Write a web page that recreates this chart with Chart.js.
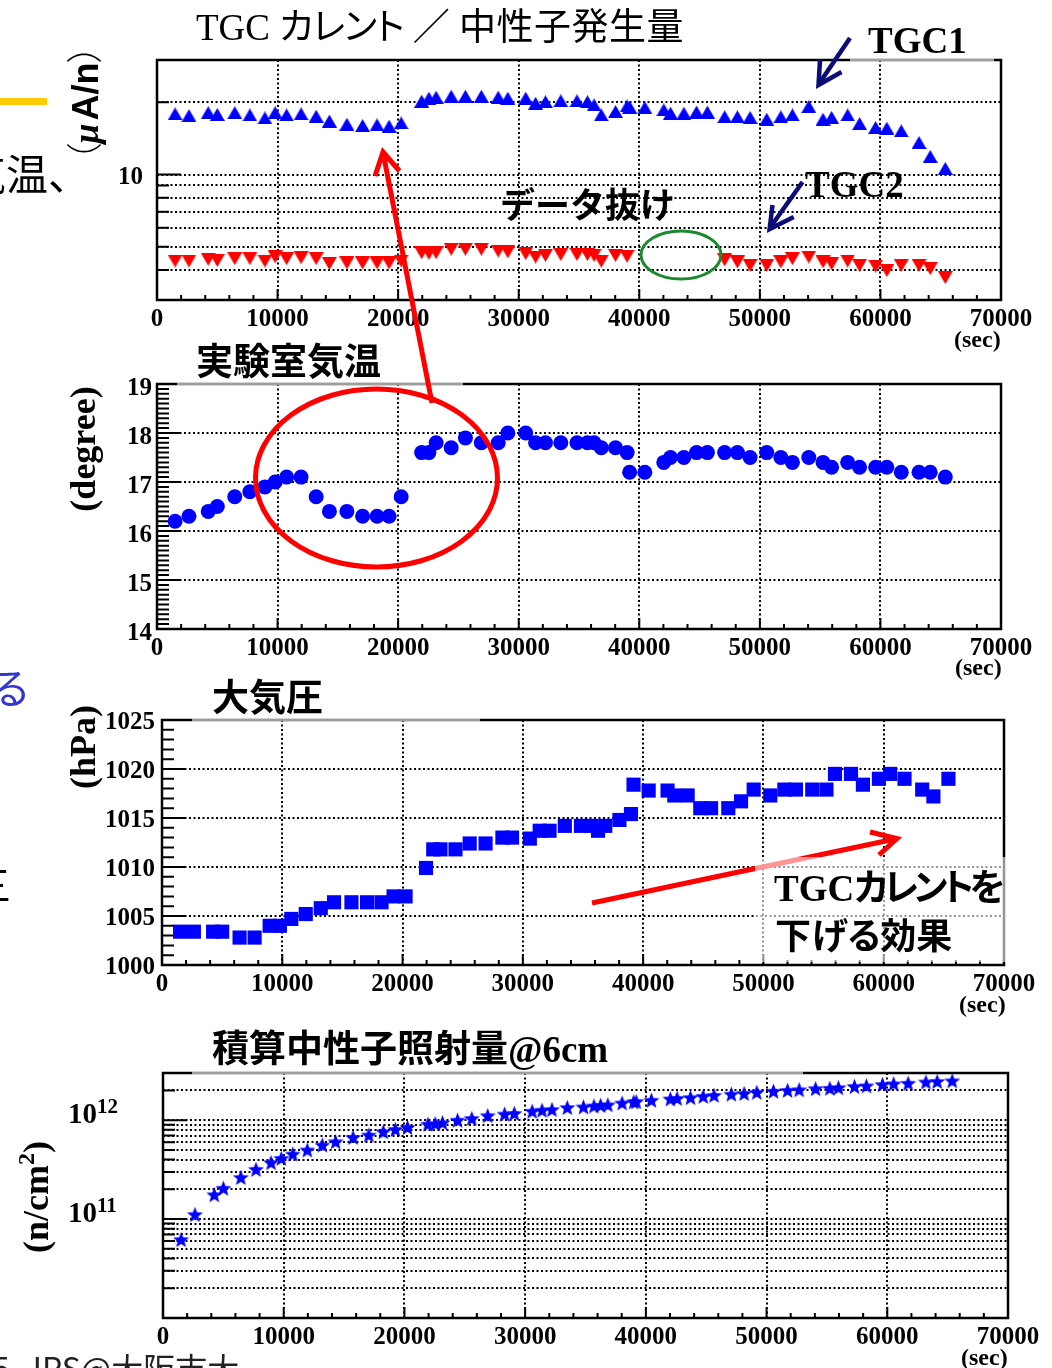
<!DOCTYPE html>
<html lang="ja">
<head>
<meta charset="utf-8">
<title>TGC カレント / 中性子発生量</title>
<script src="https://cdn.jsdelivr.net/npm/chart.js@4.4.1/dist/chart.umd.min.js"></script>
<style>
  html, body { margin: 0; padding: 0; background: #fff; }
  body { position: relative; width: 1052px; height: 1368px; overflow: hidden; }
  canvas.panel { position: absolute; left: 0; top: 0; }
  .t { position: absolute; white-space: nowrap; line-height: 1; color: #000; transform: translateY(-50%); }
  .rot { position: absolute; white-space: nowrap; line-height: 1; color: #000; transform: translate(-50%, -50%) rotate(-90deg); }
  .serif { font-family: "Liberation Serif", "Noto Sans CJK JP", serif; }
  .jp { font-family: "Noto Sans CJK JP", sans-serif; }
  .b { font-weight: bold; }
  .palt { font-feature-settings: "palt"; }
  svg.overlay { position: absolute; left: 0; top: 0; }
</style>
</head>
<body>
<canvas id="currentChart" class="panel" width="1052" height="1368"></canvas>
<canvas id="tempChart" class="panel" width="1052" height="1368"></canvas>
<canvas id="pressureChart" class="panel" width="1052" height="1368"></canvas>
<canvas id="fluenceChart" class="panel" width="1052" height="1368"></canvas>

<svg class="overlay" width="1052" height="1368" viewBox="0 0 1052 1368">
  <!-- worn segments of the frame tops -->
  <g stroke="rgba(255,255,255,0.62)" stroke-width="3">
    <line x1="850" y1="60" x2="994" y2="60"/>
    <line x1="177" y1="384" x2="463" y2="384"/>
    <line x1="192" y1="720" x2="480" y2="720"/>
    <line x1="192" y1="1073" x2="803" y2="1073"/>
  </g>
  <!-- TGC1 / TGC2 pointers -->
  <g fill="none" stroke="#0c0c78" stroke-width="4.5" stroke-linecap="butt" stroke-linejoin="miter">
    <line x1="850" y1="38" x2="819.5" y2="83"/>
    <polyline points="820,60 818.5,85 841.5,72"/>
    <line x1="802.5" y1="182" x2="770.5" y2="227"/>
    <polyline points="772.5,205 769.6,229 793.7,217"/>
  </g>
  <!-- missing TGC2 data -->
  <ellipse cx="681" cy="255" rx="40" ry="24" fill="none" stroke="#1b8a2c" stroke-width="3"/>
  <!-- temperature dip and its link to the current -->
  <g fill="none" stroke="#ff0000" stroke-width="5">
    <line x1="432" y1="403" x2="383.5" y2="155"/>
    <polyline points="375,176 383,152 399.5,171"/>
    <ellipse cx="376.5" cy="478" rx="121" ry="89"/>
    <line x1="592" y1="903" x2="895" y2="839"/>
    <polyline points="870,832 897,838.5 879,855"/>
  </g>
</svg>

<!-- left margin remnants -->
<div style="position:absolute;left:0;top:98px;width:47px;height:7px;background:#ffcb05"></div>
<div class="t jp" style="left:-36px;top:172px;font-size:42px;">気温、</div>
<div class="t jp" style="left:-11px;top:686px;font-size:42px;color:#3535cf;">る</div>
<div class="t jp" style="left:-29px;top:883px;font-size:40px;">三</div>
<div style="position:absolute;left:-8px;top:1351px;font-size:32px;line-height:32px;white-space:nowrap;color:#222;" class="jp">5<span style="margin-left:15px">JPS@大阪市大</span></div>

<!-- panel titles -->
<div class="t serif palt" style="left:196px;top:27px;font-size:37px;">TGC <span style="letter-spacing:-1px">カレント</span> ／ <span style="letter-spacing:0.5px">中性子発生量</span></div>
<div class="t serif b palt" style="left:196px;top:362px;font-size:37px;">実験室気温</div>
<div class="t serif b palt" style="left:212px;top:698px;font-size:37px;">大気圧</div>
<div class="t serif b" style="left:212px;top:1049px;font-size:37px;">積算中性子照射量@6cm</div>

<!-- axis titles -->
<div class="rot" style="left:84px;top:103px;font-size:36px;"><span class="jp palt" style="font-weight:300;">（</span><span style="font-family:'Liberation Serif';font-style:italic;font-weight:bold;">μ</span><span style="font-family:'Liberation Sans';font-weight:bold;margin-left:3px;">A/n</span><span class="jp palt" style="font-weight:300;">）</span></div>
<div class="rot serif b" style="left:83px;top:449px;font-size:36px;">(degree)</div>
<div class="rot serif b" style="left:83px;top:747px;font-size:36px;">(hPa)</div>
<div class="rot serif b" style="left:34px;top:1197px;font-size:36px;">(n/cm<sup style="font-size:24px;vertical-align:0.55em;">2</sup>)</div>

<div class="t serif b" style="left:954px;top:339px;font-size:24px;">(sec)</div>
<div class="t serif b" style="left:955px;top:667px;font-size:24px;">(sec)</div>
<div class="t serif b" style="left:959px;top:1004px;font-size:24px;">(sec)</div>
<div class="t serif b" style="left:961px;top:1357px;font-size:24px;">(sec)</div>

<!-- annotations -->
<div class="t serif b" style="left:868px;top:40px;font-size:37px;">TGC1</div>
<div class="t serif b" style="left:805px;top:184px;font-size:37px;">TGC2</div>
<div class="t jp b" style="left:500px;top:202px;font-size:35px;">データ抜け</div>

<div style="position:absolute;left:755px;top:857px;width:257px;height:105px;background:rgba(255,255,255,0.58);"></div>
<div class="t serif b palt" style="left:774px;top:888px;font-size:37px;">TGC<span style="letter-spacing:-4.5px">カレントを</span></div>
<div class="t jp b palt" style="left:775px;top:933px;font-size:36px;">下げる効果</div>

<script>
// ---- measurement times (s) shared by all four panels ----
const timeSec = [1500, 2650, 4250, 5000, 6450, 7700, 8950, 9800, 10750, 11950,
  13200, 14300, 15750, 17050, 18250, 19250, 20250, 21950, 22550, 23150,
  24400, 25580, 26900, 28300, 29100, 30580, 31400, 32220, 33490, 34830,
  35700, 36250, 36850, 38030, 38990, 39200, 40460, 42030, 42590, 43700,
  44750, 45650, 47080, 48140, 49190, 50570, 51740, 52700, 54060, 55240,
  55950, 57280, 58270, 59600, 60530, 61730, 63200, 64130, 65380];

// TGC current per neutron yield (uA/n)
const tgc1Current = [17.9, 17.6, 18.1, 17.8, 18.1, 17.7, 17.2, 18.1, 17.7, 17.9,
  17.5, 16.7, 16.2, 16.0, 16.1, 15.9, 16.4, 20.2, 20.8, 21.0,
  21.2, 21.2, 21.2, 21.0, 20.8, 20.8, 19.8, 20.1, 20.3, 20.3,
  20.1, 19.5, 17.7, 18.3, 19.3, 19.1, 19.0, 18.6, 18.0, 18.0,
  18.2, 18.2, 17.4, 17.4, 17.3, 17.0, 17.4, 17.7, 19.2, 17.0,
  17.3, 17.7, 16.3, 15.7, 15.6, 15.2, 13.6, 11.9, 10.6];
const tgc2Current = [4.36, 4.36, 4.43, 4.38, 4.46, 4.46, 4.36, 4.54, 4.46, 4.50,
  4.46, 4.26, 4.28, 4.28, 4.28, 4.28, 4.36, 4.72, 4.69, 4.72,
  4.88, 4.88, 4.88, 4.80, 4.76, 4.68, 4.53, 4.60, 4.64, 4.64,
  4.64, 4.60, 4.35, 4.60, 4.56, null, null, null, null, null,
  null, null, 4.41, 4.32, 4.18, 4.18, 4.32, 4.46, 4.53, 4.32,
  4.25, 4.36, 4.18, 4.15, 3.98, 4.18, 4.18, 4.05, 3.72];

// lab temperature (degree)
const labTemperature = [16.2, 16.3, 16.4, 16.5, 16.7, 16.8, 16.9, 17.0, 17.1, 17.1,
  16.7, 16.4, 16.4, 16.3, 16.3, 16.3, 16.7, 17.6, 17.6, 17.8,
  17.7, 17.9, 17.8, 17.8, 18.0, 18.0, 17.8, 17.8, 17.8, 17.8,
  17.8, 17.8, 17.7, 17.7, 17.6, 17.2, 17.2, 17.4, 17.5, 17.5,
  17.6, 17.6, 17.6, 17.6, 17.5, 17.6, 17.5, 17.4, 17.5, 17.4,
  17.3, 17.4, 17.3, 17.3, 17.3, 17.2, 17.2, 17.2, 17.1];

// atmospheric pressure (hPa)
const airPressure = [1003.4, 1003.4, 1003.4, 1003.4, 1002.8, 1002.8, 1004.0, 1004.0, 1004.7, 1005.2,
  1005.8, 1006.4, 1006.4, 1006.4, 1006.4, 1007.0, 1007.0, 1009.9, 1011.8, 1011.8,
  1011.8, 1012.4, 1012.4, 1013.0, 1013.0, 1012.9, 1013.7, 1013.7, 1014.2, 1014.2,
  1014.2, 1013.7, 1014.2, 1014.8, 1015.4, 1018.4, 1017.8, 1017.8, 1017.3, 1017.3,
  1016.0, 1016.0, 1016.0, 1016.7, 1017.9, 1017.3, 1017.9, 1017.9, 1017.9, 1017.9,
  1019.5, 1019.5, 1018.4, 1019.0, 1019.5, 1019.0, 1017.9, 1017.2, 1019.0];

// integrated neutron fluence at 6 cm (n/cm^2)
const neutronFluence = [6.2e10, 1.11e11, 1.76e11, 2.05e11, 2.63e11, 3.18e11, 3.72e11, 4.11e11, 4.54e11, 4.99e11,
  5.6e11, 6.05e11, 6.69e11, 7.07e11, 7.64e11, 8.06e11, 8.44e11, 9.1e11, 9.2e11, 9.4e11,
  1.0e12, 1.04e12, 1.11e12, 1.15e12, 1.17e12, 1.23e12, 1.26e12, 1.28e12, 1.34e12, 1.36e12,
  1.39e12, 1.41e12, 1.43e12, 1.49e12, 1.53e12, 1.54e12, 1.59e12, 1.64e12, 1.66e12, 1.69e12,
  1.74e12, 1.78e12, 1.83e12, 1.86e12, 1.91e12, 1.96e12, 2.0e12, 2.03e12, 2.08e12, 2.1e12,
  2.13e12, 2.19e12, 2.22e12, 2.29e12, 2.33e12, 2.36e12, 2.43e12, 2.46e12, 2.5e12];

// ---- axis ticks ----
const xTickValues = [0, 10000, 20000, 30000, 40000, 50000, 60000, 70000];
const xGridValues = [10000, 20000, 30000, 40000, 50000, 60000];
const xMinorStep = 2000;

const currentTicks = [4, 5, 6, 7, 8, 9, 10, 20];
const currentLabeled = [10];
const temperatureTicks = [14, 15, 16, 17, 18, 19];
const temperatureMinorStep = 0.1;
const pressureTicks = [1000, 1005, 1010, 1015, 1020, 1025];
const pressureMinorStep = 1;
const fluenceTicks = [2e10, 3e10, 4e10, 5e10, 6e10, 7e10, 8e10, 9e10, 1e11,
  2e11, 3e11, 4e11, 5e11, 6e11, 7e11, 8e11, 9e11, 1e12, 2e12];
const fluenceDecades = [1e11, 1e12];
const fluenceExponents = ['11', '12'];

// ---- drawing helpers ----
const W = 1052, H = 1368, AXIS_H = 40;
const BLUE = '#0000ff', RED = '#ff0000';
const tickFont = { family: 'Liberation Serif', weight: 'bold', size: 25 };

function markerCanvas(w, h, color, path) {
  const c = document.createElement('canvas');
  c.width = w; c.height = h;
  const g = c.getContext('2d');
  g.fillStyle = color;
  g.beginPath();
  path(g, w, h);
  g.closePath();
  g.fill();
  return c;
}
const triUp = markerCanvas(15, 13, BLUE, (g, w, h) => { g.moveTo(w / 2, 0); g.lineTo(w, h); g.lineTo(0, h); });
const triDown = markerCanvas(15, 13, RED, (g, w, h) => { g.moveTo(0, 0); g.lineTo(w, 0); g.lineTo(w / 2, h); });
const starMark = markerCanvas(17, 17, BLUE, (g, w, h) => {
  const cx = w / 2, cy = h / 2 + 0.7, R = 8.4, r = 3.6;
  for (let i = 0; i < 10; i++) {
    const a = -Math.PI / 2 + i * Math.PI / 5, rad = i % 2 ? r : R;
    g.lineTo(cx + rad * Math.cos(a), cy + rad * Math.sin(a));
  }
});

function stepValues(from, to, step, skip) {
  const out = [];
  const n = Math.round((to - from) / step);
  for (let i = 1; i < n; i++) {
    const v = +(from + i * step).toFixed(6);
    if (!skip.some(s => Math.abs(s - v) < step / 10)) out.push(v);
  }
  return out;
}

function points(values) {
  return timeSec.map((t, i) => ({ x: t, y: values[i] })).filter(p => p.y !== null);
}

// ROOT-like frame: dotted grid, inward ticks, heavy border
function rootFrame(cfg) {
  return {
    id: 'rootFrame',
    beforeDatasetsDraw(chart) {
      const { ctx, chartArea: a, scales: { x, y } } = chart;
      ctx.save();
      ctx.strokeStyle = '#000';
      ctx.lineWidth = 2;
      ctx.setLineDash([2, 2.5]);
      ctx.beginPath();
      for (const v of xGridValues) {
        const p = Math.round(x.getPixelForValue(v));
        ctx.moveTo(p, a.top); ctx.lineTo(p, a.bottom);
      }
      for (const v of cfg.yGrid) {
        const p = Math.round(y.getPixelForValue(v));
        ctx.moveTo(a.left, p); ctx.lineTo(a.right, p);
      }
      ctx.stroke();
      ctx.setLineDash([]);
      ctx.lineWidth = 2;
      ctx.beginPath();
      for (const v of xTickValues) {
        const p = x.getPixelForValue(v);
        ctx.moveTo(p, a.bottom); ctx.lineTo(p, a.bottom - 11);
      }
      for (const v of stepValues(0, 70000, xMinorStep, xTickValues)) {
        const p = x.getPixelForValue(v);
        ctx.moveTo(p, a.bottom); ctx.lineTo(p, a.bottom - 5);
      }
      for (const v of cfg.yMajor) {
        const p = y.getPixelForValue(v);
        ctx.moveTo(a.left, p); ctx.lineTo(a.left + 24, p);
      }
      for (const v of cfg.yMinor) {
        const p = y.getPixelForValue(v);
        ctx.moveTo(a.left, p); ctx.lineTo(a.left + 12, p);
      }
      ctx.stroke();
      ctx.restore();
    },
    afterDatasetsDraw(chart) {
      const { ctx, chartArea: a } = chart;
      ctx.save();
      ctx.strokeStyle = '#000';
      ctx.lineWidth = 2.5;
      ctx.strokeRect(a.left, a.top, a.right - a.left, a.bottom - a.top);
      ctx.restore();
    },
    afterDraw(chart) {
      if (!cfg.powerLabels) return;
      const { ctx, scales: { y } } = chart;
      ctx.save();
      ctx.fillStyle = '#000';
      ctx.textBaseline = 'middle';
      cfg.powerLabels.values.forEach((v, i) => {
        const py = y.getPixelForValue(v) - 5;
        ctx.font = 'bold 29px "Liberation Serif"';
        ctx.textAlign = 'right';
        ctx.fillText('10', 97, py);
        ctx.font = 'bold 21px "Liberation Serif"';
        ctx.textAlign = 'left';
        ctx.fillText(cfg.powerLabels.exponents[i], 97, py - 8);
      });
      ctx.restore();
    }
  };
}

function makePanel(id, cfg) {
  return new Chart(document.getElementById(id), {
    type: 'scatter',
    data: { datasets: cfg.datasets },
    options: {
      responsive: false,
      animation: false,
      events: [],
      layout: { padding: { left: 0, top: cfg.area.top, right: W - cfg.area.right, bottom: H - cfg.area.bottom - AXIS_H } },
      plugins: { legend: { display: false }, tooltip: { enabled: false } },
      scales: {
        x: {
          type: 'linear', position: 'bottom', min: 0, max: 70000,
          afterBuildTicks: s => { s.ticks = xTickValues.map(v => ({ value: v })); },
          afterFit: s => { s.height = AXIS_H; s.paddingLeft = 0; s.paddingRight = 0; },
          grid: { display: false, drawTicks: false },
          border: { display: false },
          ticks: { autoSkip: false, maxRotation: 0, minRotation: 0, padding: 5, color: '#000', font: tickFont,
                   callback: v => String(v) }
        },
        y: {
          type: cfg.yType, position: 'left', min: cfg.yMin, max: cfg.yMax,
          afterBuildTicks: s => { s.ticks = cfg.yTicks.map(v => ({ value: v })); },
          afterFit: s => { s.width = cfg.area.left; s.paddingTop = 0; s.paddingBottom = 0; },
          grid: { display: false, drawTicks: false },
          border: { display: false },
          ticks: { autoSkip: false, padding: cfg.yPad, labelOffset: cfg.yLabelOffset, color: '#000', font: tickFont,
                   callback: cfg.yLabel }
        }
      }
    },
    plugins: [rootFrame(cfg)]
  });
}

function build() {
  makePanel('currentChart', {
    area: { left: 157, right: 1001, top: 60, bottom: 300 },
    yType: 'logarithmic', yMin: 3, yMax: 30,
    yTicks: currentTicks, yGrid: currentTicks,
    yMajor: currentLabeled, yMinor: currentTicks.filter(v => !currentLabeled.includes(v)),
    yLabel: v => currentLabeled.includes(v) ? String(v) : '',
    yPad: 14, yLabelOffset: 3,
    datasets: [
      { label: 'TGC1', data: points(tgc1Current), pointStyle: triUp, pointRadius: 7 },
      { label: 'TGC2', data: points(tgc2Current), pointStyle: triDown, pointRadius: 7 }
    ]
  });

  makePanel('tempChart', {
    area: { left: 157, right: 1001, top: 384, bottom: 629 },
    yType: 'linear', yMin: 14, yMax: 19,
    yTicks: temperatureTicks, yGrid: temperatureTicks.slice(1, -1),
    yMajor: temperatureTicks, yMinor: stepValues(14, 19, temperatureMinorStep, temperatureTicks),
    yLabel: v => String(v),
    yPad: 5, yLabelOffset: 4.5,
    datasets: [
      { label: '実験室気温', data: points(labTemperature), pointStyle: 'circle', pointRadius: 7.5,
        backgroundColor: BLUE, borderWidth: 0 }
    ]
  });

  makePanel('pressureChart', {
    area: { left: 162, right: 1004, top: 720, bottom: 965 },
    yType: 'linear', yMin: 1000, yMax: 1025,
    yTicks: pressureTicks, yGrid: pressureTicks.slice(1, -1),
    yMajor: pressureTicks, yMinor: stepValues(1000, 1025, pressureMinorStep, pressureTicks),
    yLabel: v => String(v),
    yPad: 7, yLabelOffset: 3,
    datasets: [
      { label: '大気圧', data: points(airPressure), pointStyle: 'rect', pointRadius: 10,
        backgroundColor: BLUE, borderWidth: 0 }
    ]
  });

  makePanel('fluenceChart', {
    area: { left: 163, right: 1008, top: 1073, bottom: 1318 },
    yType: 'logarithmic', yMin: 1e10, yMax: 3e12,
    yTicks: fluenceTicks, yGrid: fluenceTicks,
    yMajor: fluenceDecades, yMinor: fluenceTicks.filter(v => !fluenceDecades.includes(v)),
    yLabel: () => '',
    yPad: 8, yLabelOffset: 0,
    powerLabels: { values: fluenceDecades, exponents: fluenceExponents },
    datasets: [
      { label: '積算中性子照射量', data: points(neutronFluence), pointStyle: starMark, pointRadius: 8 }
    ]
  });
}

Promise.all([
  document.fonts.load('bold 25px "Liberation Serif"'),
  document.fonts.load('bold 29px "Liberation Serif"')
]).catch(() => {}).then(build);
</script>
</body>
</html>
